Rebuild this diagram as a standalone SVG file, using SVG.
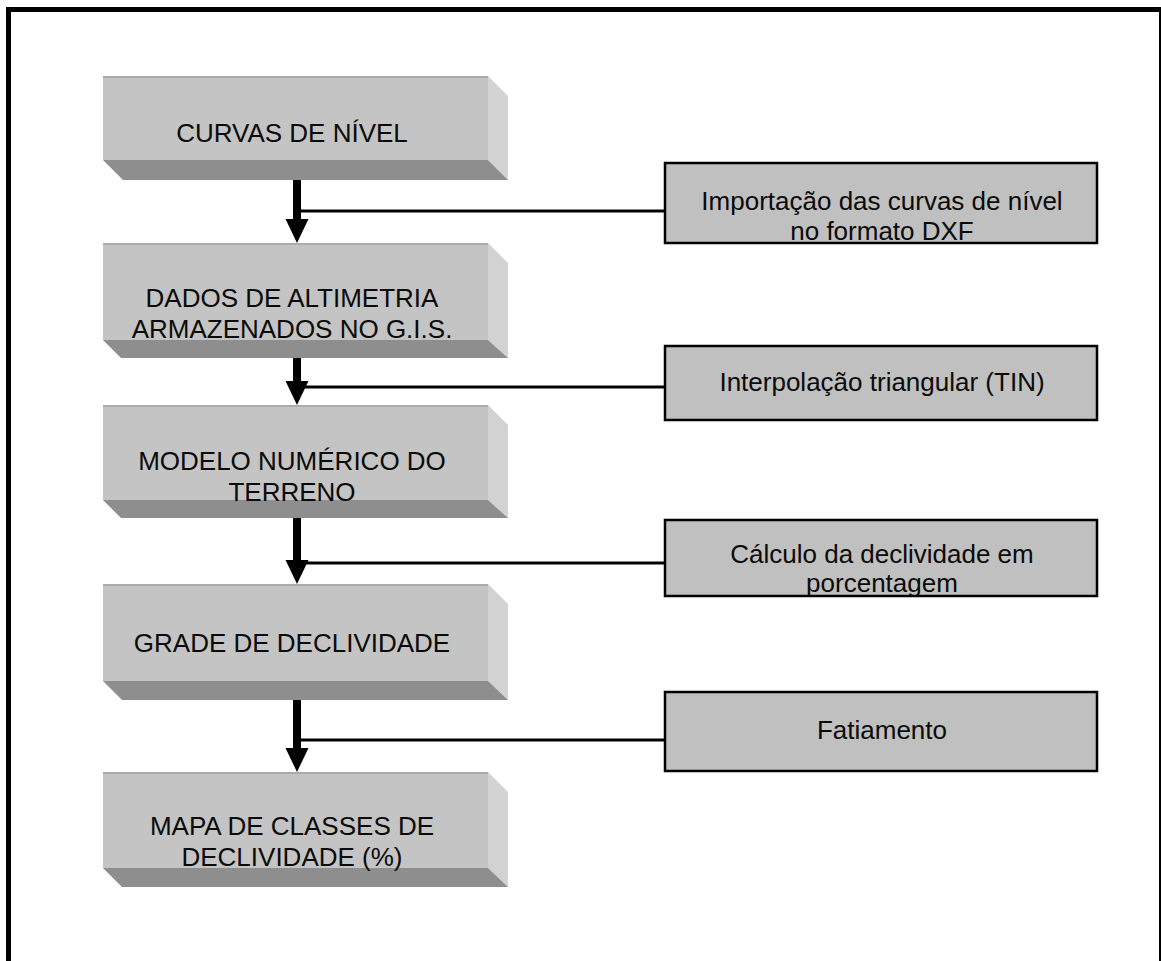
<svg xmlns="http://www.w3.org/2000/svg" width="1161" height="961" viewBox="0 0 1161 961">
<defs>
<style>
.face{fill:#C4C4C4}
.top{stroke:#ABABAB;stroke-width:2}
.side{fill:#D2D2D2}
.bot{fill:#8E8E8E}
.sbox{fill:#C0C0C0;stroke:#000;stroke-width:2.5}
.t{font-family:"Liberation Sans",Arial,sans-serif;font-size:26px;fill:#0a0a0a;text-anchor:middle}
.st{font-family:"Liberation Sans",Arial,sans-serif;font-size:26px;fill:#0a0a0a;text-anchor:middle}
.ln{stroke:#000;stroke-width:3;fill:none}
.shaft{stroke:#000;stroke-width:8;fill:none}
</style>
</defs>
<rect x="0" y="0" width="1161" height="961" fill="#fff"/>
<rect x="8.5" y="9.5" width="1153" height="1000" fill="none" stroke="#000" stroke-width="5"/>

<g id="connectors">
  <line class="ln" x1="297" y1="211" x2="665" y2="211"/>
  <line class="shaft" x1="297" y1="180" x2="297" y2="221"/>
  <polygon points="285.5,219 308.5,219 297,243"/>
  <line class="ln" x1="297" y1="387" x2="665" y2="387"/>
  <line class="shaft" x1="297" y1="358" x2="297" y2="383"/>
  <polygon points="285.5,381 308.5,381 297,405"/>
  <line class="ln" x1="297" y1="563" x2="665" y2="563"/>
  <line class="shaft" x1="297" y1="518" x2="297" y2="562"/>
  <polygon points="285.5,560 308.5,560 297,584"/>
  <line class="ln" x1="297" y1="740" x2="665" y2="740"/>
  <line class="shaft" x1="297" y1="700" x2="297" y2="750"/>
  <polygon points="285.5,748 308.5,748 297,772"/>
</g>

<g id="n1">
  <polygon class="side" points="488,76 508,96 508,180 488,160"/>
  <polygon class="bot" points="103,160 488,160 508,180 123,180"/>
  <rect class="face" x="103" y="76" width="385" height="84"/>
  <line class="top" x1="103" y1="77" x2="488" y2="77"/>
  <text class="t" x="292" y="142">CURVAS DE NÍVEL</text>
</g>
<g id="n2">
  <polygon class="side" points="488,243 508,263 508,358 488,340"/>
  <polygon class="bot" points="103,340 488,340 508,358 121,358"/>
  <rect class="face" x="103" y="243" width="385" height="97"/>
  <line class="top" x1="103" y1="244" x2="488" y2="244"/>
  <text class="t" x="292" y="307">DADOS DE ALTIMETRIA</text>
  <text class="t" x="292" y="338">ARMAZENADOS NO G.I.S.</text>
</g>
<g id="n3">
  <polygon class="side" points="488,405 508,425 508,518 488,500"/>
  <polygon class="bot" points="103,500 488,500 508,518 121,518"/>
  <rect class="face" x="103" y="405" width="385" height="95"/>
  <line class="top" x1="103" y1="406" x2="488" y2="406"/>
  <text class="t" x="292" y="470">MODELO NUMÉRICO DO</text>
  <text class="t" x="292" y="501">TERRENO</text>
</g>
<g id="n4">
  <polygon class="side" points="488,584 508,604 508,700 488,681"/>
  <polygon class="bot" points="103,681 488,681 508,700 122,700"/>
  <rect class="face" x="103" y="584" width="385" height="97"/>
  <line class="top" x1="103" y1="585" x2="488" y2="585"/>
  <text class="t" x="292" y="652">GRADE DE DECLIVIDADE</text>
</g>
<g id="n5">
  <polygon class="side" points="488,772 508,792 508,887 488,868"/>
  <polygon class="bot" points="103,868 488,868 508,887 122,887"/>
  <rect class="face" x="103" y="772" width="385" height="96"/>
  <line class="top" x1="103" y1="773" x2="488" y2="773"/>
  <text class="t" x="292" y="835">MAPA DE CLASSES DE</text>
  <text class="t" x="292" y="866">DECLIVIDADE (%)</text>
</g>

<g id="s1">
  <rect class="sbox" x="665" y="163" width="432" height="80"/>
  <text class="st" x="882" y="210">Importação das curvas de nível</text>
  <text class="st" x="882" y="240">no formato DXF</text>
</g>
<g id="s2">
  <rect class="sbox" x="665" y="346" width="432" height="74"/>
  <text class="st" x="882" y="391">Interpolação triangular (TIN)</text>
</g>
<g id="s3">
  <rect class="sbox" x="665" y="520" width="432" height="76"/>
  <text class="st" x="882" y="563">Cálculo da declividade em</text>
  <text class="st" x="882" y="592">porcentagem</text>
</g>
<g id="s4">
  <rect class="sbox" x="665" y="692" width="432" height="79"/>
  <text class="st" x="882" y="739">Fatiamento</text>
</g>
</svg>
